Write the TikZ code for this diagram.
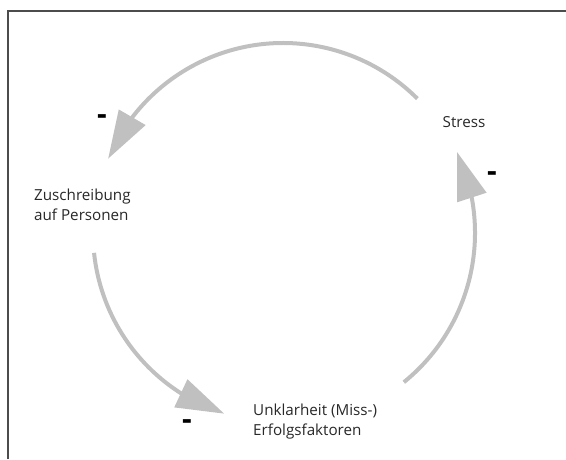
\documentclass[tikz,border=0pt]{standalone}
\usepackage{fontspec}
\setmainfont{Open Sans}
\usetikzlibrary{arrows.meta,bending}
\definecolor{loopgray}{RGB}{192,192,192}
\definecolor{txtgray}{RGB}{40,40,40}
\begin{document}
\begin{tikzpicture}[x=1pt,y=1pt,
    loopline/.style={loopgray,line width=4pt,-{Triangle[length=48pt,width=30pt]}},
    label/.style={inner sep=0pt,text=txtgray,align=left,font=\fontsize{15.2}{20}\selectfont},
    sign/.style={inner sep=0pt,font=\fontsize{30}{30}\selectfont\bfseries}]
    \useasboundingbox (0,0) rectangle (566,459);
    \draw [black!70,line width=1.5pt] (8,0) -- (8,448) -- (566,448);
    \coordinate (mid) at (283,226);
    \node [label] (stress) at (464,337) {Stress};
    \node [label,anchor=west] (zuschreibung) at (34,254) {Zuschreibung\\auf Personen};
    \node [label,anchor=west] (unklarheit) at (253,37) {Unklarheit (Miss-)\\Erfolgsfaktoren};
    \node [sign] (minusA) at (102,339) {-};
    \node [sign] (minusB) at (492,282) {-};
    \node [sign] (minusC) at (187,34) {-};
    \draw [loopline] ([shift={(45:190)}]mid) arc [start angle=45,end angle=157,radius=190];
    \draw [loopline] ([shift={(186:190)}]mid) arc [start angle=186,end angle=252,radius=190];
    \draw [loopline] ([shift={(-51:192)}]mid) arc [start angle=-51,end angle=25,radius=192];
\end{tikzpicture}
\end{document}
